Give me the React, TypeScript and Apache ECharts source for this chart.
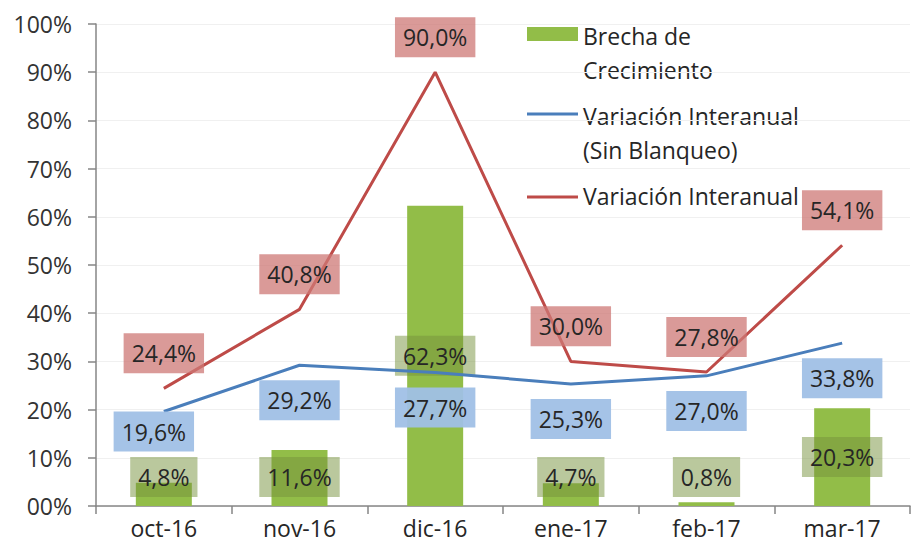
import React, { useEffect, useRef } from "react";
import * as echarts from "echarts";

const categories = ["oct-16", "nov-16", "dic-16", "ene-17", "feb-17", "mar-17"];
const brechaCrecimiento = [4.8, 11.6, 62.3, 4.7, 0.8, 20.3];
const variacionSinBlanqueo = [19.6, 29.2, 27.7, 25.3, 27.0, 33.8];
const variacionInteranual = [24.4, 40.8, 90.0, 30.0, 27.8, 54.1];
const seriesNames = ["Brecha de\nCrecimiento", "Variación Interanual\n(Sin Blanqueo)", "Variación Interanual"];

const GREEN = "#92bd48";
const BLUE = "#4a7ebb";
const RED = "#be4b48";
const TEXT = "#262626";
const FONT = "'Open Sans', 'Noto Sans', sans-serif";

const fmt = (v: number) => v.toFixed(1).replace(".", ",") + "%";

export default function App() {
  const ref = useRef<HTMLDivElement>(null);
  useEffect(() => {
    if (!ref.current) return;
    const chart = echarts.init(ref.current, undefined, { renderer: "svg" });
    const labelBase = {
      show: true,
      fontFamily: FONT,
      fontSize: 23,
      lineHeight: 24,
      color: TEXT,
      padding: [8, 8, 8, 8],
      formatter: (p: any) => fmt(p.value),
    };
    chart.setOption({
      animation: false,
      textStyle: { fontFamily: FONT },
      grid: { left: 96, right: 7, top: 24, bottom: 47 },
      xAxis: {
        type: "category",
        data: categories,
        boundaryGap: true,
        axisLine: { lineStyle: { color: "#868686", width: 1.5 } },
        axisTick: { show: true, interval: 0, length: 8, lineStyle: { color: "#868686", width: 1.5 } },
        axisLabel: { color: TEXT, fontSize: 23, fontFamily: FONT, margin: 10, interval: 0 },
      },
      yAxis: {
        type: "value",
        min: 0,
        max: 100,
        interval: 10,
        axisLine: { show: true, lineStyle: { color: "#868686", width: 1.5 } },
        axisTick: { show: true, length: 8, lineStyle: { color: "#868686", width: 1.5 } },
        axisLabel: {
          color: "#333333",
          fontSize: 23,
          fontFamily: FONT,
          margin: 24,
          formatter: (v: number) => (v === 0 ? "00%" : v + "%"),
        },
        splitLine: { show: true, lineStyle: { color: "#f0f0f0", width: 1 } },
      },
      series: [
        {
          name: seriesNames[0],
          type: "bar",
          barWidth: 56,
          itemStyle: { color: GREEN },
          data: brechaCrecimiento.map((v) => ({
            value: v,
            label:
              v >= 15
                ? { ...labelBase, position: "inside", backgroundColor: "rgba(118,146,60,0.5)" }
                : { ...labelBase, position: "insideBottom", distance: 9, backgroundColor: "rgba(118,146,60,0.5)" },
          })),
          z: 1,
        },
        {
          name: seriesNames[1],
          type: "line",
          symbol: "circle",
          symbolSize: 0.1,
          showSymbol: true,
          lineStyle: { color: BLUE, width: 3 },
          itemStyle: { color: BLUE },
          data: variacionSinBlanqueo.map((v, i) => ({
            value: v,
            label:
              i === 0
                ? { ...labelBase, position: "bottom", distance: 0, offset: [-10, 0], backgroundColor: "rgba(160,192,230,0.95)" }
                : { ...labelBase, position: "bottom", distance: 15, backgroundColor: "rgba(160,192,230,0.95)" },
          })),
          z: 3,
        },
        {
          name: seriesNames[2],
          type: "line",
          symbol: "circle",
          symbolSize: 0.1,
          showSymbol: true,
          lineStyle: { color: RED, width: 3 },
          itemStyle: { color: RED },
          data: variacionInteranual.map((v) => ({
            value: v,
            label: { ...labelBase, position: "top", distance: 15, backgroundColor: "rgba(205,120,118,0.75)" },
          })),
          z: 4,
        },
      ],
      graphic: [
        { type: "rect", shape: { x: 527, y: 27, width: 51, height: 14 }, style: { fill: GREEN } },
        {
          type: "text",
          x: 583,
          y: 19,
          style: { text: seriesNames[0], fill: TEXT, fontSize: 23, fontFamily: FONT, lineHeight: 34, verticalAlign: "top" },
        },
        { type: "line", shape: { x1: 527, y1: 114, x2: 578, y2: 114 }, style: { stroke: BLUE, lineWidth: 3 } },
        {
          type: "text",
          x: 583,
          y: 99,
          style: { text: seriesNames[1], fill: TEXT, fontSize: 23, fontFamily: FONT, lineHeight: 34, verticalAlign: "top" },
        },
        { type: "line", shape: { x1: 527, y1: 197, x2: 578, y2: 197 }, style: { stroke: RED, lineWidth: 3 } },
        {
          type: "text",
          x: 583,
          y: 179,
          style: { text: seriesNames[2], fill: TEXT, fontSize: 23, fontFamily: FONT, lineHeight: 34, verticalAlign: "top" },
        },
      ],
    });
    return () => chart.dispose();
  }, []);
  return <div ref={ref} style={{ position: "absolute", left: 0, top: 0, width: 917, height: 553, background: "#fff" }} />;
}
